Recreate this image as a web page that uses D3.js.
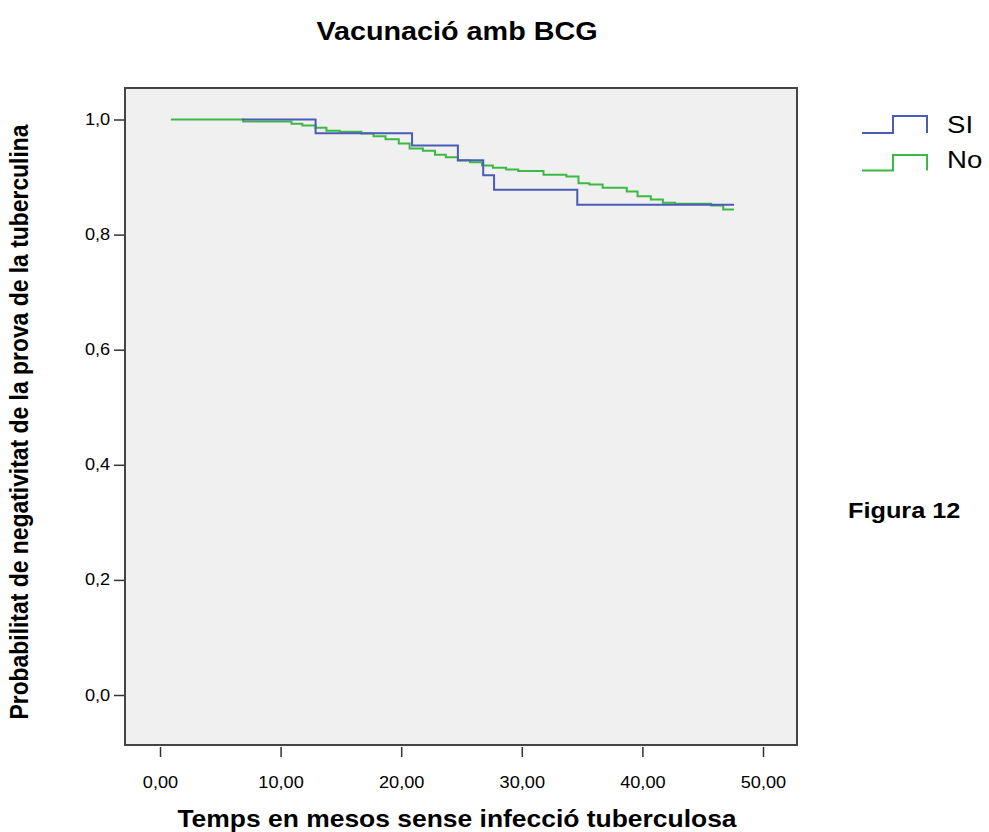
<!DOCTYPE html>
<meta charset="utf-8">
<style>
    body { margin: 0; background: #fff; }
    text { font-family: "Liberation Sans", Arial, sans-serif; fill: #000; }
    .frame { fill: #f0f0f0; stroke: #444; stroke-width: 2px; }
    .km { fill: none; stroke-width: 2px; }
    .axis line { stroke: #333; stroke-width: 1.5px; }
</style>
<body>
<script src="https://d3js.org/d3.v7.min.js"></script>
<script>
    // Kaplan-Meier steps: time of each drop and the new level
    var siStart = 6.8;
    var siTimes = [12.9, 20.9, 24.7, 26.8, 27.7, 34.6];
    var siSurv = [0.976, 0.955, 0.929, 0.903, 0.878, 0.852];
    var siEnd = 47.6;

    var noStart = 0.9;
    var noTimes = [6.9, 10.9, 11.8, 12.9, 13.8, 14.9, 16.7, 17.7, 18.7, 19.8, 20.7, 21.8, 22.8,
        23.7, 24.7, 25.7, 26.7, 27.6, 28.7, 29.7, 31.8, 33.7, 34.7, 35.6, 36.7, 38.7, 39.6,
        40.7, 41.7, 42.7, 45.7, 46.7];
    var noSurv = [0.9965, 0.9925, 0.9896, 0.9856, 0.9806, 0.9786, 0.9757, 0.9710, 0.9658, 0.9583,
        0.9497, 0.9457, 0.9387, 0.9345, 0.9288, 0.9259, 0.9201, 0.9161, 0.9132, 0.9106, 0.9040,
        0.9010, 0.8894, 0.8872, 0.8814, 0.8750, 0.8668, 0.8611, 0.8554, 0.8536, 0.8507, 0.8438];
    var noEnd = 47.6;

    var xTicks = [0, 10, 20, 30, 40, 50];
    var yTicks = [0, 0.2, 0.4, 0.6, 0.8, 1.0];
    var groups = ["SI", "No"];
    var colors = ["#4a5cb8", "#3cb944"];

    // the source image is stretched sideways, so text is too
    var sx = 1.15;

    var svg = d3.select("body").append("svg")
        .attr("width", 989)
        .attr("height", 832);

    // frame of the plot
    var frame = { left: 125, right: 797, top: 88, bottom: 745 };

    var x = d3.scaleLinear().domain([0, 50]).range([160, 763]);
    var y = d3.scaleLinear().domain([0, 1]).range([695, 119.5]);

    svg.append("rect")
        .attr("class", "frame")
        .attr("x", frame.left)
        .attr("y", frame.top)
        .attr("width", frame.right - frame.left)
        .attr("height", frame.bottom - frame.top);

    var locale = d3.formatLocale({ decimal: ",", thousands: ".", grouping: [3], currency: ["", ""] });

    // X axis
    var xAxis = svg.append("g")
        .attr("class", "axis")
        .attr("transform", "translate(0," + (frame.bottom + 2) + ")")
        .call(d3.axisBottom(x).tickValues(xTicks).tickFormat(locale.format(".2f"))
            .tickSize(10).tickPadding(20));
    xAxis.select(".domain").remove();
    xAxis.selectAll("text")
        .style("font-size", "15.8px")
        .attr("transform", "scale(" + sx + ",1)");

    // Y axis
    var yAxis = svg.append("g")
        .attr("class", "axis")
        .attr("transform", "translate(" + (frame.left - 1) + ",0)")
        .call(d3.axisLeft(y).tickValues(yTicks).tickFormat(locale.format(".1f"))
            .tickSize(10).tickPadding(2));
    yAxis.select(".domain").remove();
    yAxis.selectAll("text")
        .style("font-size", "15.8px")
        .attr("transform", "scale(" + sx + ",1)");

    // step curves
    function steps(start, times, surv, end) {
        var pts = [[start, 1]];
        times.forEach(function(t, i) { pts.push([t, surv[i]]); });
        pts.push([end, surv[surv.length - 1]]);
        return pts;
    }

    var line = d3.line()
        .x(function(d) { return x(d[0]); })
        .y(function(d) { return y(d[1]); })
        .curve(d3.curveStepAfter);

    svg.append("path")
        .datum(steps(noStart, noTimes, noSurv, noEnd))
        .attr("class", "km")
        .attr("stroke", colors[1])
        .attr("d", line);

    svg.append("path")
        .datum(steps(siStart, siTimes, siSurv, siEnd))
        .attr("class", "km")
        .attr("stroke", colors[0])
        .attr("d", line);

    // texts
    function hText(str, tx, ty, size, weight, anchor) {
        return svg.append("text")
            .attr("transform", "translate(" + tx + "," + ty + ") scale(" + sx + ",1)")
            .attr("text-anchor", anchor)
            .style("font-size", size + "px")
            .style("font-weight", weight)
            .text(str);
    }

    hText("Vacunació amb BCG", 457, 40, 25, "bold", "middle");
    hText("Temps en mesos sense infecció tuberculosa", 457, 827, 23, "bold", "middle");
    hText("Figura 12", 848, 518, 22, "bold", "start");

    svg.append("text")
        .attr("transform", "translate(28,422) scale(" + sx + ",1) rotate(-90)")
        .attr("text-anchor", "middle")
        .style("font-size", "22.9px")
        .style("font-weight", "bold")
        .text("Probabilitat de negativitat de la prova de la tuberculina");

    // legend
    var legend = svg.append("g");
    groups.forEach(function(name, i) {
        var low = [133, 170.5][i], high = [116, 155][i];
        legend.append("path")
            .attr("class", "km")
            .attr("stroke", colors[i])
            .attr("d", "M862," + low + "H893V" + high + "H927V" + low);
        hText(name, 947, [133, 168][i], 24, "normal", "start");
    });
</script>
</body>
